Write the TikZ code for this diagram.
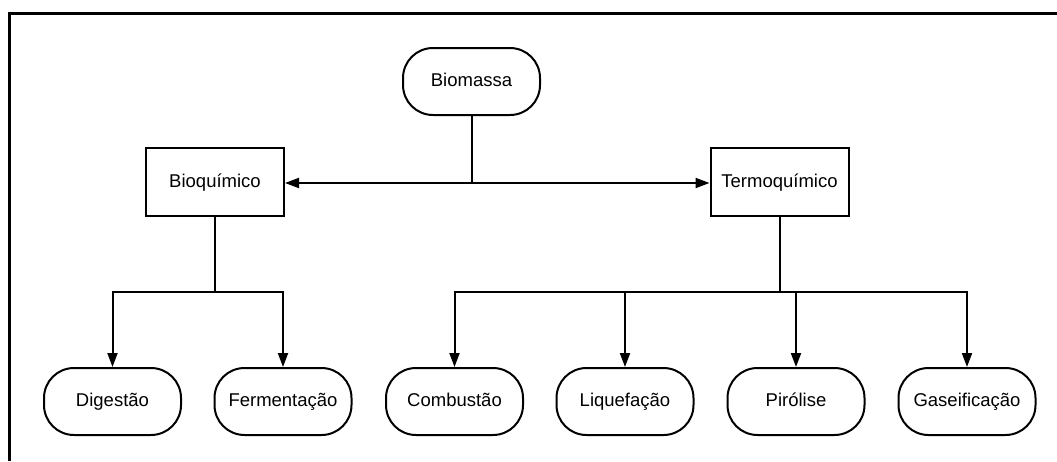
\documentclass[tikz,border=0pt]{standalone}
\usepackage{fontspec}
\setmainfont{Liberation Sans}
\usetikzlibrary{arrows.meta}
\begin{document}
\begin{tikzpicture}[x=1pt,y=-1pt,
  every node/.style={font=\fontsize{18.5}{22}\selectfont, text height=13.5pt, text depth=3.5pt},
  pill/.style={draw, line width=2pt, rounded corners=30pt, minimum width=137pt, minimum height=67pt, inner sep=0pt},
  rect/.style={draw, line width=2pt, minimum width=138pt, minimum height=68pt, inner sep=0pt},
  conn/.style={line width=2pt},
  arr/.style={conn, -{Triangle[length=14pt,width=10pt]}}
]
\useasboundingbox (0,0) rectangle (1057,461);
\draw[line width=3pt] (9,461) -- (9,13.5) -- (1057,13.5);

\node[pill] (bio) at (471.5,81.5) {Biomassa};
\node[rect] (bq) at (215,182) {Bioquímico};
\node[rect] (tq) at (779.5,182) {Termoquímico};

\node[pill] (dig) at (112.5,401.5) {Digestão};
\node[pill] (fer) at (283,401.5) {Fermentação};
\node[pill] (com) at (454.5,401.5) {Combustão};
\node[pill] (liq) at (625,401.5) {Liquefação};
\node[pill] (pir) at (796,401.5) {Pirólise};
\node[pill] (gas) at (967,401.5) {Gaseificação};

\coordinate (j) at (471.5,183);
\draw[conn] (bio.south) -- (j);
\draw[arr] (j) -- (bq.east |- j);
\draw[arr] (j) -- (tq.west |- j);

\coordinate (bj) at (215,292);
\draw[conn] (bq.south) -- (bj);
\draw[arr] (bj) -| (dig.north);
\draw[arr] (bj) -| (fer.north);

\coordinate (tj) at (779.5,292);
\draw[conn] (tq.south) -- (tj);
\draw[arr] (tj) -| (com.north);
\draw[arr] (tj) -| (liq.north);
\draw[arr] (tj) -| (pir.north);
\draw[arr] (tj) -| (gas.north);
\end{tikzpicture}
\end{document}
